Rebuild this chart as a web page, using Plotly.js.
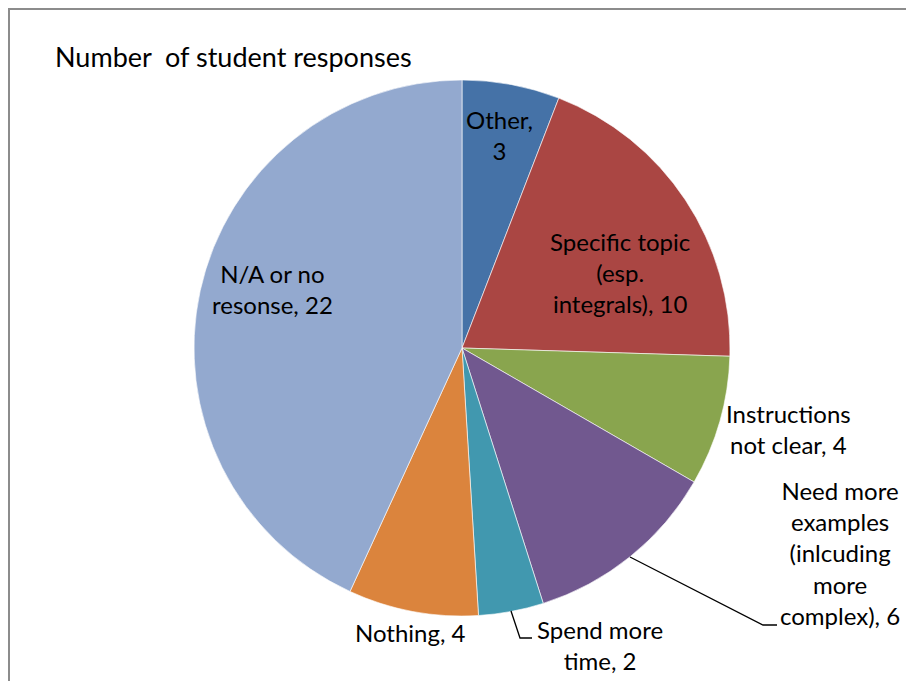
<!DOCTYPE html>
<html>
<head>
<meta charset="utf-8">
<script src="https://cdn.plot.ly/plotly-3.0.1.min.js"></script>
<style>
html,body{margin:0;padding:0;background:#fff;}
#chart{width:906px;height:681px;}
</style>
</head>
<body>
<div id="chart"></div>
<script>
// Data
const categories = ["Other", "Specific topic (esp. integrals)", "Instructions not clear", "Need more examples (inlcuding more complex)", "Spend more time", "Nothing", "N/A or no resonse"];
const values = [3, 10, 4, 6, 2, 4, 22];
const labelLines = [
  ["Other,", "{v}"],
  ["Specific topic", "(esp.", "integrals), {v}"],
  ["Instructions", "not clear, {v}"],
  ["Need more", "examples", "(inlcuding", "more", "complex), {v}"],
  ["Spend more", "time, {v}"],
  ["Nothing, {v}"],
  ["N/A or no", "resonse, {v}"]
];
const colors = ["#4572A7", "#AA4643", "#89A54E", "#71588F", "#4198AF", "#DB843D", "#93A9CF"];

// Label placement (layout only, pixels)
const labelPos = [
  [499, 135], [620, 272], [788, 429], [840, 553], [600, 645], [410, 632], [272, 289]
];

const W = 906, H = 681;
const px = x => x / W;
const py = y => 1 - y / H;
const FONT = "Lato, Carlito, 'Liberation Sans', sans-serif";

const annotations = categories.map((c, i) => ({
  text: labelLines[i].map(s => s.replace("{v}", values[i])).join("<br>"),
  xref: "paper", yref: "paper",
  x: px(labelPos[i][0]), y: py(labelPos[i][1]),
  xanchor: "center", yanchor: "middle",
  showarrow: false, align: "center",
  font: {family: FONT, size: 24, color: "#000"}
}));

const cx = 462, cy = 348, r = 268;

const data = [{
  type: "pie",
  labels: categories,
  values: values,
  sort: false,
  direction: "clockwise",
  rotation: 0,
  marker: {colors: colors, line: {color: "rgba(255,255,255,0.6)", width: 1}},
  textinfo: "none",
  hoverinfo: "label+value",
  showlegend: false,
  domain: {x: [px(cx - r), px(cx + r)], y: [py(cy + r), py(cy - r)]}
}];

const layout = {
  width: W, height: H,
  margin: {l: 0, r: 0, t: 0, b: 0},
  paper_bgcolor: "#fff",
  showlegend: false,
  title: {
    text: "Number  of student responses",
    xref: "paper", yref: "paper",
    x: px(55), xanchor: "left",
    y: py(58), yanchor: "middle",
    font: {family: FONT, size: 27, color: "#000"}
  },
  annotations: annotations,
  shapes: [
    {type: "path", xref: "paper", yref: "paper",
     path: `M ${px(9)} ${py(H + 5)} L ${px(9)} ${py(9)} L ${px(W + 5)} ${py(9)}`,
     line: {color: "#8c8c8c", width: 2}},
    {type: "path", xref: "paper", yref: "paper",
     path: `M ${px(630)} ${py(557)} L ${px(763)} ${py(625)} L ${px(777)} ${py(625)}`,
     line: {color: "#000", width: 1.3}},
    {type: "path", xref: "paper", yref: "paper",
     path: `M ${px(511)} ${py(611)} L ${px(520)} ${py(638)} L ${px(532)} ${py(638)}`,
     line: {color: "#000", width: 1.3}}
  ]
};

Plotly.newPlot("chart", data, layout, {displayModeBar: false, staticPlot: true});
</script>
</body>
</html>
